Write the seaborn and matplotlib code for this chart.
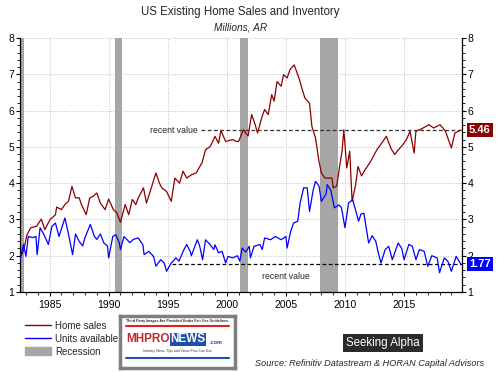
import pandas as pd
import matplotlib
matplotlib.use("Agg")
import matplotlib.pyplot as plt
import matplotlib.patches as mpatches
import matplotlib.lines as mlines
import seaborn as sns
from matplotlib.ticker import MultipleLocator

# ---------------------------------------------------------------
# Datos (millones, tasa anualizada)
# ---------------------------------------------------------------
sales_years = [1982.5, 1982.8, 1983.1, 1983.4, 1983.9, 1984.3, 1984.6, 1985.05, 1985.5, 1985.6,
               1986.0, 1986.3, 1986.6, 1986.9, 1987.2, 1987.5, 1987.7, 1988.1, 1988.4, 1988.7,
               1989.0, 1989.3, 1989.7, 1990.0, 1990.4, 1990.7, 1991.0, 1991.4, 1991.7, 1992.0,
               1992.3, 1992.5, 1992.95, 1993.2, 1993.65, 1994.0, 1994.3, 1994.5, 1994.9, 1995.3,
               1995.6, 1996.0, 1996.3, 1996.6, 1997.0, 1997.4, 1997.9, 1998.2, 1998.6, 1999.0,
               1999.3, 1999.5, 1999.9, 2000.5, 2000.8, 2001.0, 2001.4, 2001.8, 2002.1, 2002.4,
               2002.6, 2002.95, 2003.2, 2003.5, 2003.8, 2004.0, 2004.25, 2004.6, 2004.8, 2005.1,
               2005.35, 2005.7, 2006.1, 2006.35, 2006.6, 2007.0, 2007.2, 2007.5, 2007.8, 2008.0,
               2008.3, 2008.9, 2009.0, 2009.3, 2009.5, 2009.75, 2009.9, 2010.15, 2010.4, 2010.6,
               2010.9, 2011.1, 2011.4, 2011.7, 2012.1, 2012.7, 2013.1, 2013.5, 2013.9, 2014.2,
               2014.6, 2014.9, 2015.2, 2015.5, 2015.85, 2016.0, 2016.5, 2017.1, 2017.5, 2018.05,
               2018.5, 2019.0, 2019.3, 2019.6, 2019.8]
home_sales = [1.91, 2.15, 2.58, 2.77, 2.81, 3.01, 2.72, 3.00, 3.13, 3.34,
              3.27, 3.41, 3.50, 3.91, 3.59, 3.60, 3.41, 3.13, 3.59, 3.64,
              3.73, 3.45, 3.27, 3.56, 3.27, 3.18, 2.92, 3.41, 3.13, 3.55,
              3.41, 3.59, 3.87, 3.45, 3.91, 4.28, 4.00, 3.87, 3.77, 3.50,
              4.14, 4.00, 4.33, 4.14, 4.23, 4.28, 4.56, 4.92, 5.01, 5.29,
              5.10, 5.45, 5.15, 5.20, 5.15, 5.15, 5.47, 5.30, 5.89, 5.61,
              5.38, 5.80, 6.03, 5.89, 6.44, 6.26, 6.80, 6.67, 6.99, 6.90,
              7.13, 7.26, 6.90, 6.62, 6.35, 6.20, 5.56, 5.25, 4.60, 4.28,
              4.14, 4.14, 3.87, 3.92, 4.37, 4.88, 5.47, 4.42, 4.88, 3.50,
              3.96, 4.46, 4.20, 4.37, 4.56, 4.92, 5.10, 5.29, 4.95, 4.79,
              4.95, 5.06, 5.20, 5.43, 4.83, 5.43, 5.50, 5.61, 5.52, 5.61,
              5.43, 4.97, 5.38, 5.43, 5.46]

units_years = [1982.5, 1982.8, 1983.0, 1983.2, 1983.6, 1983.85, 1983.95, 1984.2, 1984.5, 1984.9,
               1985.2, 1985.5, 1985.8, 1986.3, 1986.6, 1986.95, 1987.2, 1987.5, 1987.8, 1988.0,
               1988.45, 1988.8, 1989.0, 1989.3, 1989.6, 1989.9, 1990.0, 1990.35, 1990.6, 1990.9,
               1991.0, 1991.3, 1991.8, 1992.1, 1992.5, 1992.9, 1993.0, 1993.4, 1993.8, 1994.0,
               1994.4, 1994.7, 1994.9, 1995.3, 1995.7, 1995.95, 1996.3, 1996.6, 1996.9, 1997.0,
               1997.5, 1997.7, 1997.95, 1998.2, 1998.6, 1998.9, 1999.0, 1999.3, 1999.6, 1999.9,
               2000.1, 2000.5, 2000.9, 2001.1, 2001.3, 2001.6, 2001.9, 2002.0, 2002.3, 2002.8,
               2003.0, 2003.2, 2003.7, 2004.1, 2004.6, 2005.0, 2005.1, 2005.4, 2005.65, 2006.0,
               2006.2, 2006.5, 2006.8, 2007.0, 2007.3, 2007.5, 2007.8, 2008.0, 2008.4, 2008.5,
               2008.8, 2009.1, 2009.5, 2009.7, 2010.0, 2010.3, 2010.65, 2011.15, 2011.35, 2011.6,
               2012.0, 2012.3, 2012.6, 2012.85, 2013.05, 2013.4, 2013.7, 2014.0, 2014.5, 2014.8,
               2015.0, 2015.4, 2015.7, 2016.0, 2016.3, 2016.7, 2017.0, 2017.35, 2017.8, 2018.0,
               2018.4, 2018.7, 2019.0, 2019.4, 2019.8]
units_available = [1.91, 2.31, 1.98, 2.53, 2.50, 2.53, 2.03, 2.77, 2.60, 2.31,
                   2.81, 2.90, 2.53, 3.04, 2.60, 2.03, 2.60, 2.40, 2.27, 2.50,
                   2.86, 2.53, 2.45, 2.60, 2.35, 2.27, 1.94, 2.53, 2.58, 2.36,
                   2.17, 2.53, 2.36, 2.45, 2.49, 2.30, 2.03, 2.12, 1.98, 1.71,
                   1.89, 1.80, 1.57, 1.80, 1.94, 1.85, 2.12, 2.31, 2.12, 2.00,
                   2.44, 2.27, 1.89, 2.44, 2.30, 2.17, 2.30, 2.08, 2.12, 1.80,
                   1.98, 1.94, 2.00, 1.85, 2.21, 2.10, 2.26, 1.94, 2.26, 2.31,
                   2.17, 2.49, 2.44, 2.53, 2.44, 2.53, 2.21, 2.67, 2.90, 2.95,
                   3.45, 3.87, 3.87, 3.22, 3.80, 4.05, 3.92, 3.50, 3.70, 3.96,
                   3.80, 3.32, 3.40, 3.32, 2.77, 3.45, 3.55, 2.95, 3.15, 3.17,
                   2.35, 2.55, 2.40, 2.03, 1.80, 2.17, 2.26, 1.89, 2.35, 2.20,
                   1.89, 2.31, 2.26, 1.89, 2.17, 2.12, 1.71, 2.00, 1.94, 1.53,
                   1.94, 1.85, 1.57, 1.98, 1.77]

recessions = [(1981.5, 1982.8), (1990.5, 1991.15), (2001.15, 2001.8), (2007.9, 2009.4)]
recent_sales = 5.46
recent_units = 1.77

RED = "#8b0000"
BLUE = "#0000ff"
GRAY = "#a6a6a6"

sns.set_style("white")
plt.rcParams["font.family"] = ["Liberation Sans", "DejaVu Sans"]

df_sales = pd.DataFrame({"year": sales_years, "value": home_sales})
df_units = pd.DataFrame({"year": units_years, "value": units_available})

fig = plt.figure(figsize=(4.98, 3.72), dpi=100)
ax = fig.add_axes([20 / 498, 1 - 292 / 372, 442 / 498, 254 / 372])

for start, end in recessions:
    ax.axvspan(start, end, color=GRAY, lw=0, zorder=1)

sns.lineplot(data=df_sales, x="year", y="value", color=RED, lw=0.9, ax=ax, zorder=3)
sns.lineplot(data=df_units, x="year", y="value", color=BLUE, lw=0.9, ax=ax, zorder=3)

ax.set_xlim(1982.5, 2019.9)
ax.set_ylim(1, 8)
ax.set_xlabel("")
ax.set_ylabel("")
ax.xaxis.set_major_locator(MultipleLocator(5))
ax.xaxis.set_minor_locator(MultipleLocator(1))
ax.yaxis.set_major_locator(MultipleLocator(1))
ax.yaxis.set_minor_locator(MultipleLocator(0.2))
ax.grid(True, which="major", color="#c0c0c0", linestyle=":", linewidth=0.7, zorder=0)
ax.tick_params(axis="both", which="both", direction="out", labelsize=7.5, pad=1,
               left=True, right=True, bottom=True, labelright=True, colors="black")
ax.tick_params(axis="x", which="major", pad=3)
ax.tick_params(which="major", length=3, width=0.8)
ax.tick_params(which="minor", length=2, width=0.6)
for s in ["left", "right", "bottom"]:
    ax.spines[s].set_color("black")
    ax.spines[s].set_linewidth(0.9)
ax.spines["top"].set_visible(False)

# lineas "recent value"
ax.hlines(recent_sales, 1997.8, 2019.9, colors="#333333", linestyles=(0, (3, 2)), lw=0.9, zorder=2)
ax.hlines(recent_units, 1995.4, 2019.9, colors="black", linestyles=(0, (3, 2)), lw=0.9, zorder=2)
ax.text(1997.5, recent_sales, "recent value", fontsize=6.3, ha="right", va="center", zorder=4)
ax.text(2005.0, 1.44, "recent value", fontsize=6.3, ha="center", va="center", zorder=4)

ax.text(1.04, recent_sales, f"{recent_sales:.2f}", transform=ax.get_yaxis_transform(),
        ha="center", va="center", fontsize=8, fontweight="bold", color="white",
        bbox=dict(boxstyle="square,pad=0.2", fc=RED, ec="none"), clip_on=False, zorder=5)
ax.text(1.04, recent_units, f"{recent_units:.2f}", transform=ax.get_yaxis_transform(),
        ha="center", va="center", fontsize=8, fontweight="bold", color="white",
        bbox=dict(boxstyle="square,pad=0.2", fc=BLUE, ec="none"), clip_on=False, zorder=5)

# titulos
fig.text(0.483, 1 - 12 / 372, "US Existing Home Sales and Inventory", ha="center", va="center", fontsize=8.3)
fig.text(0.483, 1 - 27 / 372, "Millions, AR", ha="center", va="center", fontsize=7.3, style="italic")

# leyenda
handles = [mlines.Line2D([], [], color=RED, lw=1.0),
           mlines.Line2D([], [], color=BLUE, lw=1.0),
           mpatches.Patch(color=GRAY)]
fig.legend(handles, ["Home sales", "Units available", "Recession"], loc="upper left",
           bbox_to_anchor=(18 / 498, 1 - 314 / 372), frameon=False, fontsize=7,
           handlelength=2.7, handleheight=0.9, labelspacing=0.3, handletextpad=0.4,
           borderpad=0.2)

# marca de agua (aproximada)
wm = fig.add_axes([120 / 498, 1 - 368 / 372, 115 / 498, 52 / 372])
wm.set_xlim(0, 1)
wm.set_ylim(0, 1)
wm.set_xticks([])
wm.set_yticks([])
for s in wm.spines.values():
    s.set_color("#7f7f7f")
    s.set_linewidth(2.5)
wm.text(0.5, 0.9, "Third Party Images Are Provided Under Fair Use Guidelines.", ha="center",
        va="center", fontsize=2.6, fontweight="bold")
wm.plot([0.05, 0.95], [0.8, 0.8], color="#e02020", lw=1.5)
wm.text(0.43, 0.55, "MHPRO", ha="right", va="center", fontsize=8.5, fontweight="bold", color="#c62828")
wm.text(0.44, 0.55, "NEWS", ha="left", va="center", fontsize=8.5, fontweight="bold", color="white",
        bbox=dict(boxstyle="square,pad=0.05", fc="#1f4fa8", ec="none"))
wm.text(0.78, 0.5, ".com", ha="left", va="center", fontsize=4, color="#1f4fa8", fontweight="bold")
wm.text(0.5, 0.32, "Industry News, Tips and Views Pros Can Use", ha="center", va="center",
        fontsize=2.4, color="#333333")
wm.plot([0.05, 0.95], [0.2, 0.2], color="#1f4fa8", lw=1.5)

fig.text(383 / 498, 1 - 343 / 372, "Seeking Alpha", ha="center", va="center", fontsize=8.3,
         color="white", bbox=dict(boxstyle="square,pad=0.25", fc="#2b2b2b", ec="none"))
fig.text(484 / 498, 1 - 364 / 372, "Source: Refinitiv Datastream & HORAN Capital Advisors",
         ha="right", va="center", fontsize=6.6, style="italic")

fig.savefig("out.png", dpi=100)
